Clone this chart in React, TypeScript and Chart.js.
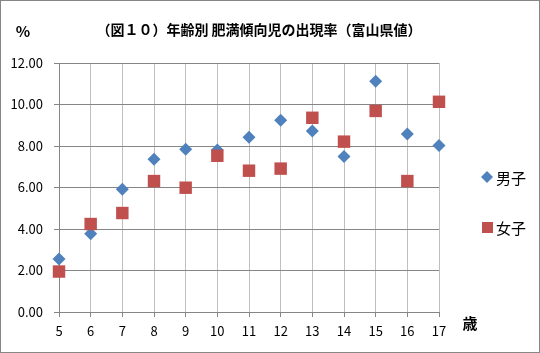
import React, { useEffect, useRef } from "react";
import { Chart, registerables } from "chart.js";

Chart.register(...registerables);

const ages = [5, 6, 7, 8, 9, 10, 11, 12, 13, 14, 15, 16, 17];
const boys = [2.56, 3.77, 5.91, 7.36, 7.84, 7.81, 8.42, 9.24, 8.72, 7.5, 11.12, 8.58, 8.03];
const girls = [1.95, 4.24, 4.77, 6.31, 5.99, 7.53, 6.81, 6.91, 9.36, 8.21, 9.69, 6.31, 10.13];
const seriesNames = ["男子", "女子"];
const titleText = "（図１０）年齢別 肥満傾向児の出現率（富山県値）";
const yUnit = "%";
const xUnit = "歳";

const BLUE = "#4F81BD";
const RED = "#C0504D";
const FONT = "'Noto Sans CJK JP', 'DejaVu Sans', sans-serif";

export default function App() {
  const ref = useRef<HTMLCanvasElement | null>(null);

  useEffect(() => {
    if (!ref.current) return;
    const deco = {
      id: "deco",
      afterDraw(chart: any) {
        const ctx = chart.ctx;
        ctx.save();
        ctx.fillStyle = "#000";
        ctx.textBaseline = "middle";
        ctx.font = `bold 14px ${FONT}`;
        ctx.textAlign = "center";
        ctx.fillText(titleText, 259, 30);
        ctx.font = `bold 15px ${FONT}`;
        ctx.fillText(yUnit, 23, 31);
        ctx.fillText(xUnit, 470, 323);
        // legend
        ctx.font = `15px ${FONT}`;
        ctx.textAlign = "left";
        const items = [
          { name: seriesNames[0], color: BLUE, style: "diamond", y: 177 },
          { name: seriesNames[1], color: RED, style: "square", y: 227 },
        ];
        for (const it of items) {
          ctx.fillStyle = it.color;
          if (it.style === "diamond") {
            ctx.beginPath();
            ctx.moveTo(487, it.y - 6);
            ctx.lineTo(493, it.y);
            ctx.lineTo(487, it.y + 6);
            ctx.lineTo(481, it.y);
            ctx.closePath();
            ctx.fill();
          } else {
            ctx.fillRect(482, it.y - 5, 11, 11);
          }
          ctx.fillStyle = "#000";
          ctx.fillText(it.name, 496, it.y + 1);
        }
        ctx.strokeStyle = "#868686";
        ctx.lineWidth = 1;
        ctx.strokeRect(0.5, 0.5, 539, 352);
        ctx.restore();
      },
    };

    const chart = new Chart(ref.current, {
      type: "scatter",
      data: {
        datasets: [
          {
            label: seriesNames[0],
            data: ages.map((a, i) => ({ x: a, y: boys[i] })),
            pointStyle: "rectRot",
            pointRadius: 6.5,
            backgroundColor: BLUE,
            borderColor: BLUE,
            borderWidth: 0,
            order: 1,
            clip: false,
          },
          {
            label: seriesNames[1],
            data: ages.map((a, i) => ({ x: a, y: girls[i] })),
            pointStyle: "rect",
            pointRadius: 8.8,
            backgroundColor: RED,
            borderColor: RED,
            borderWidth: 0,
            order: 0,
            clip: false,
          },
        ],
      },
      options: {
        responsive: false,
        animation: false,
        layout: { padding: { top: 63, right: 101, left: 0, bottom: 0 } },
        plugins: {
          legend: { display: false },
          title: { display: false },
          tooltip: { enabled: false },
        },
        scales: {
          x: {
            type: "linear",
            min: 5,
            max: 17,
            afterFit: (s: any) => {
              s.height = 41;
            },
            ticks: {
              stepSize: 1,
              color: "#000",
              padding: 6,
              font: { family: FONT, size: 13 },
            },
            grid: { color: "#BFBFBF", tickLength: 5, tickColor: "#868686" },
            border: { color: "#868686" },
          },
          y: {
            min: 0,
            max: 12,
            afterFit: (s: any) => {
              s.width = 59;
            },
            ticks: {
              stepSize: 2,
              color: "#000",
              padding: 11,
              font: { family: FONT, size: 13 },
              callback: (v: any) => Number(v).toFixed(2),
            },
            grid: { color: "#868686", tickLength: 5, tickColor: "#868686" },
            border: { color: "#868686" },
          },
        },
      },
      plugins: [deco],
    });
    return () => chart.destroy();
  }, []);

  return (
    <div style={{ position: "absolute", left: 0, top: 0, width: 540, height: 353, background: "#fff" }}>
      <canvas ref={ref} width={540} height={353} style={{ display: "block" }} />
    </div>
  );
}
